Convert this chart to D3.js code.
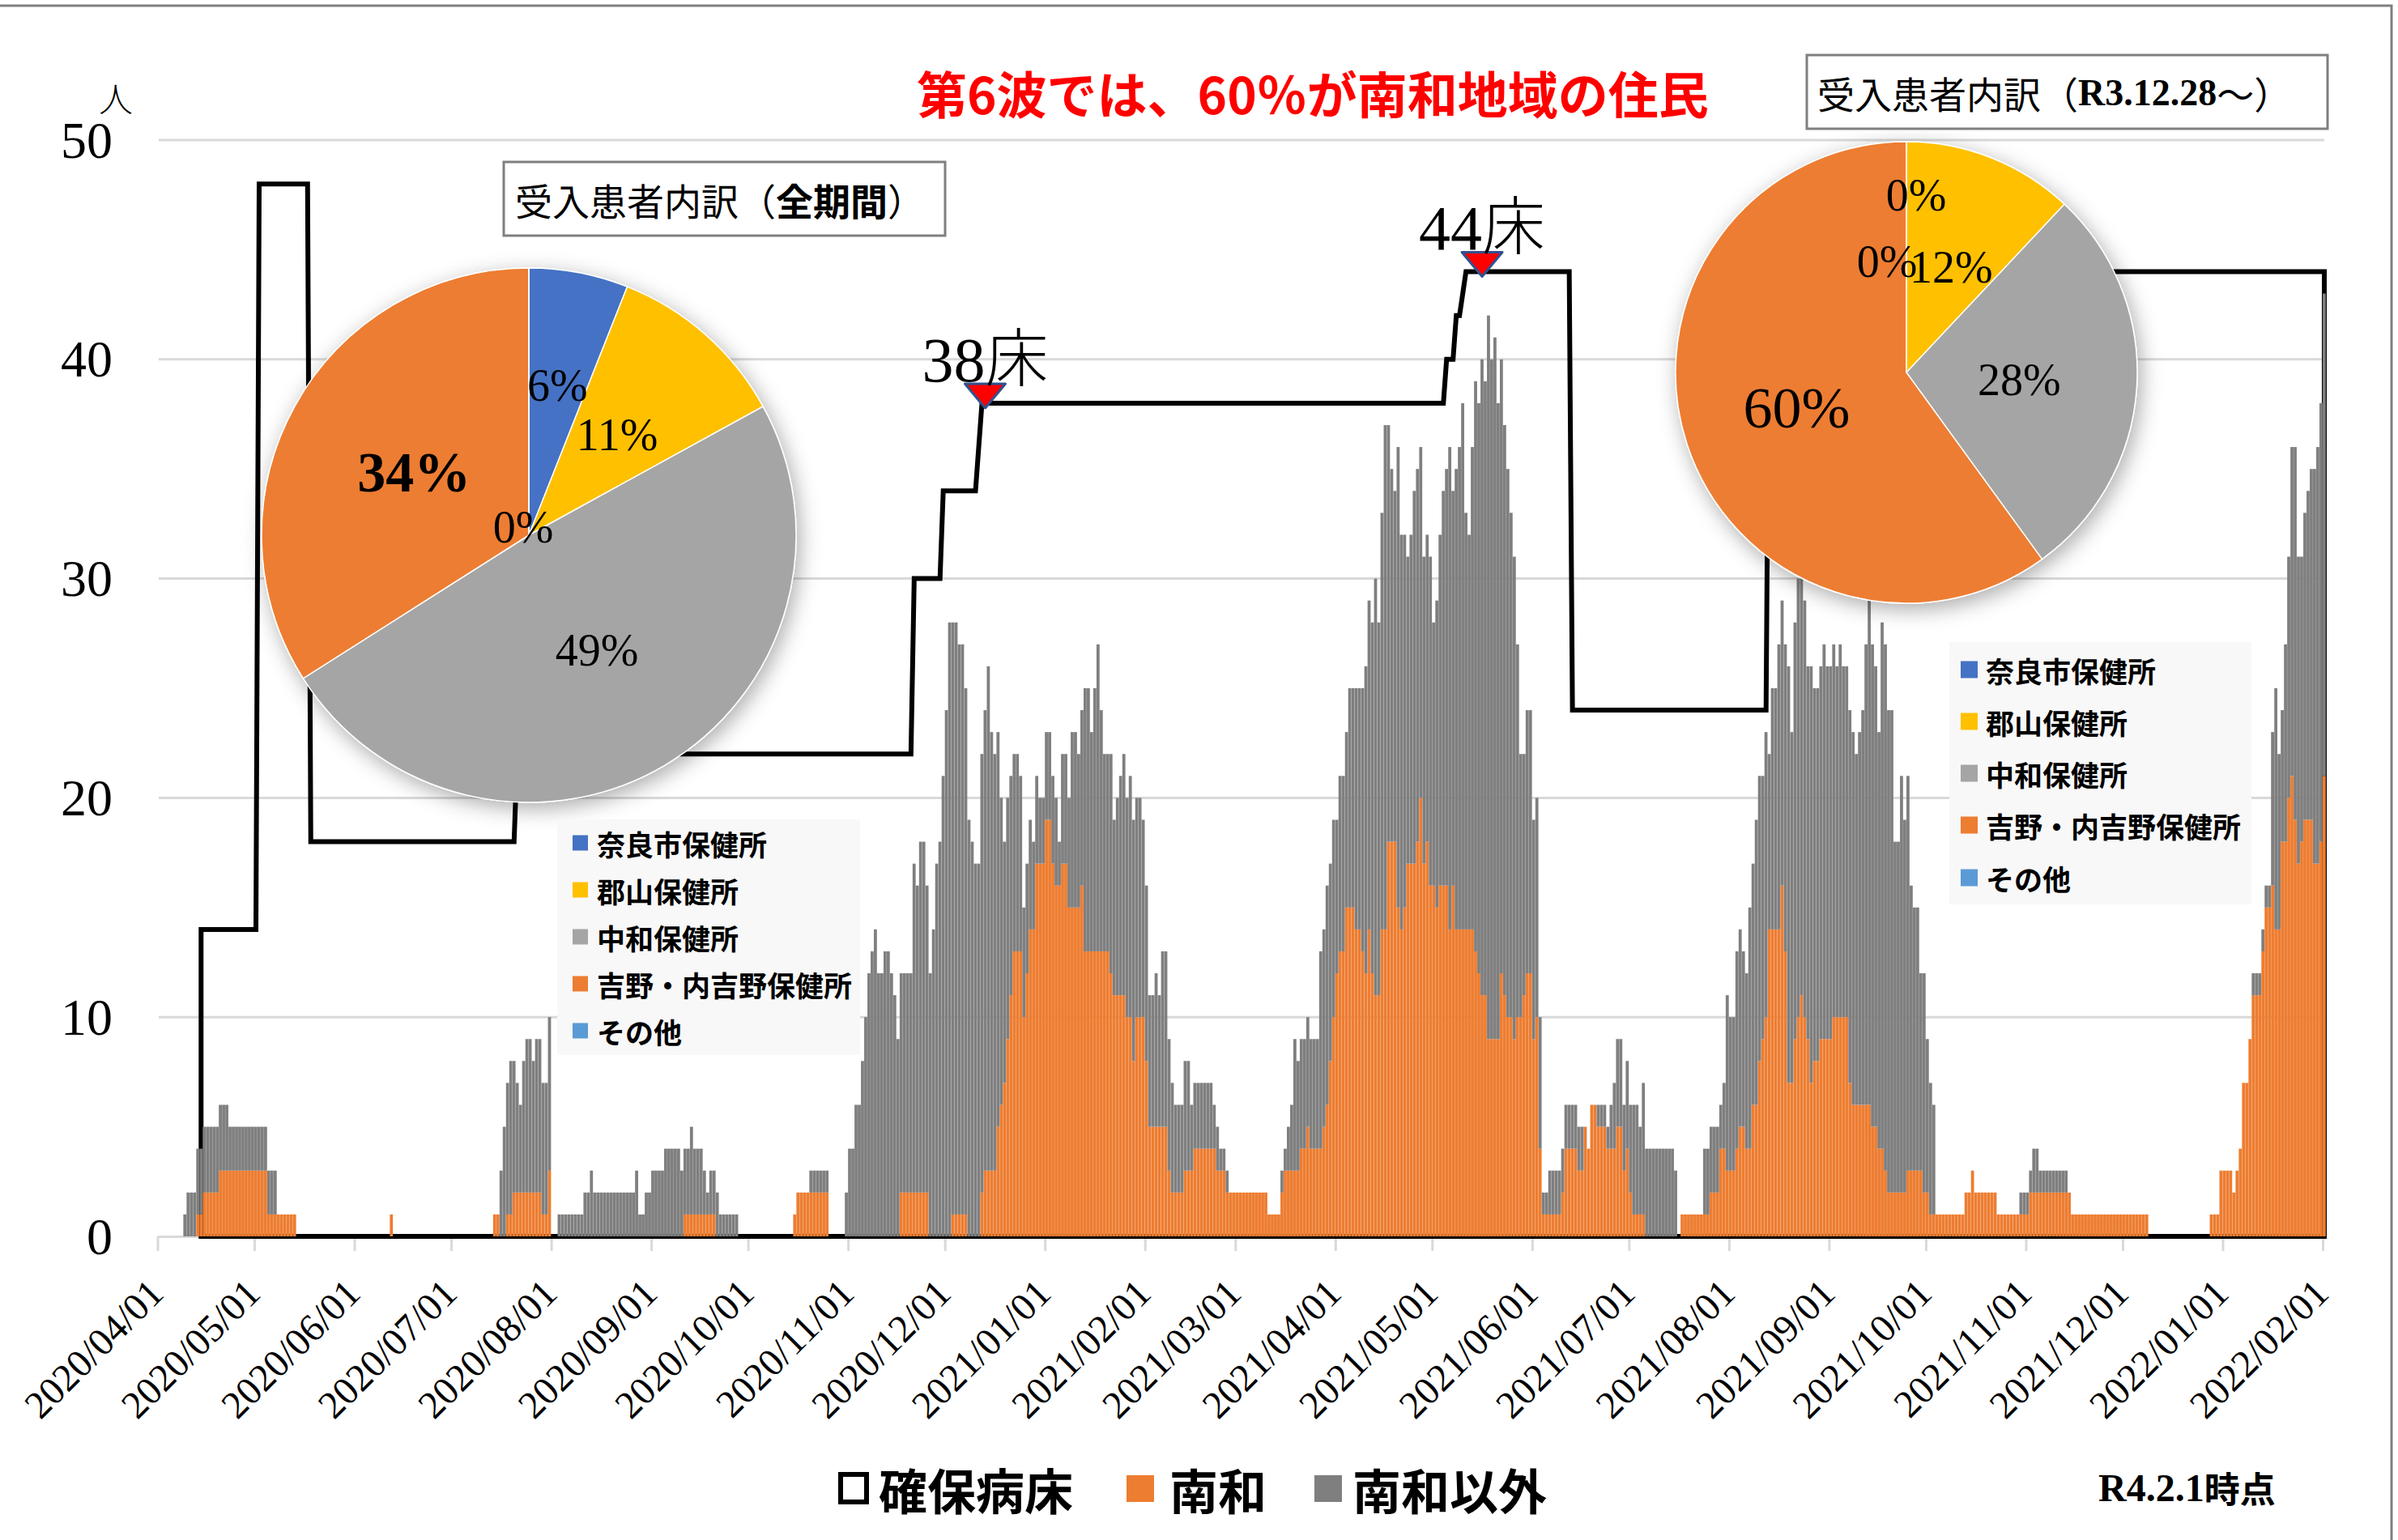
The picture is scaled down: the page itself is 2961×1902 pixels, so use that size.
<!DOCTYPE html>
<html><head><meta charset="utf-8">
<script src="https://cdn.jsdelivr.net/npm/d3@7"></script>
<style>
html,body{margin:0;padding:0;background:#fff;}
svg{display:block;}
</style></head><body>
<svg id="chart" width="2961" height="1902"></svg>
<script>
// ---------------- DATA ----------------
const startDate = "2020-04-01";
const endDate = "2022-02-01";
// 南和 (daily inpatients, 吉野・内吉野保健所 area)
const nanwa = [
/*2020-04*/0,0,0,0,0,0,0,0,0,0, 0,0,1,1,2,2,2,2,2,3, 3,3,3,3,3,3,3,3,3,3,
/*2020-05*/3,3,3,3,1,1,1,1,1,1, 1,1,1,0,0,0,0,0,0,0, 0,0,0,0,0,0,0,0,0,0, 0,
/*2020-06*/0,0,0,0,0,0,0,0,0,0, 0,1,0,0,0,0,0,0,0,0, 0,0,0,0,0,0,0,0,0,0,
/*2020-07*/0,0,0,0,0,0,0,0,0,0, 0,0,0,1,1,0,0,1,1,2, 2,2,2,2,2,2,2,2,1,1, 3,
/*2020-08*/0,0,0,0,0,0,0,0,0,0, 0,0,0,0,0,0,0,0,0,0, 0,0,0,0,0,0,0,0,0,0, 0,
/*2020-09*/0,0,0,0,0,0,0,0,0,0, 1,1,1,1,1,1,1,1,1,1, 0,0,0,0,0,0,0,0,0,0,
/*2020-10*/0,0,0,0,0,0,0,0,0,0, 0,0,0,0,1,2,2,2,2,2, 2,2,2,2,2,0,0,0,0,0, 0,
/*2020-11*/0,0,0,0,0,0,0,0,0,0, 0,0,0,0,0,0,2,2,2,2, 2,2,2,2,2,0,0,0,0,0,
/*2020-12*/0,0,1,1,1,1,1,0,0,0, 0,2,3,3,3,3,5,6,7,9, 11,13,13,13,10,12,14,14,17,17, 17,
/*2021-01*/19,19,17,16,16,17,17,15,15,15, 15,16,13,13,13,13,13,13,13,13, 12,11,11,11,11,10,10,8,10,10, 10,
/*2021-02*/8,5,5,5,5,5,5,3,2,2, 2,2,3,3,3,4,4,4,4,4, 4,4,3,3,3,2,2,2,
/*2021-03*/2,2,2,2,2,2,2,2,2,2, 1,1,1,1,2,3,3,3,3,3, 4,4,5,4,4,4,4,5,6,8, 10,
/*2021-04*/12,13,13,15,15,15,14,14,13,12, 14,12,11,11,14,14,18,18,18,15, 14,15,17,17,17,18,20,17,18,16,
/*2021-05*/16,15,16,16,16,14,16,14,14,14, 14,14,14,13,12,11,11,9,9,9, 9,12,11,10,10,9,10,10,11,12, 12,
/*2021-06*/9,10,4,1,1,1,1,1,1,2, 4,4,4,4,3,3,5,4,6,6, 5,5,5,4,4,4,5,5,3,4,
/*2021-07*/2,1,1,1,1,0,0,0,0,0, 0,0,0,0,0,0,1,1,1,1, 1,1,1,1,1,2,2,2,4,4, 3,
/*2021-08*/3,3,4,5,5,4,4,6,6,8, 9,10,14,14,14,14,16,13,7,7, 9,10,11,10,9,7,8,8,9,9, 9,
/*2021-09*/9,10,10,10,10,10,7,6,6,6, 6,6,6,5,5,4,4,3,2,2, 2,2,2,2,3,3,3,3,3,2,
/*2021-10*/2,1,1,1,1,1,1,1,1,1, 1,1,2,2,3,2,2,2,2,2, 2,2,1,1,1,1,1,1,1,1, 1,
/*2021-11*/1,2,2,2,2,2,2,2,2,2, 2,2,2,2,1,1,1,1,1,1, 1,1,1,1,1,1,1,1,1,1,
/*2021-12*/1,1,1,1,1,1,1,1,0,0, 0,0,0,0,0,0,0,0,0,0, 0,0,0,0,0,0,0,1,1,1, 3,
/*2022-01*/3,3,3,2,3,4,7,7,9,11, 11,11,13,15,15,16,14,14,18,18, 20,21,19,17,18,19,19,19,17,17, 18,
/*2022-02*/21
];
// 南和以外
const nanwaIgai = [
/*2020-04*/0,0,0,0,0,0,0,0,1,2, 2,2,3,3,3,3,3,3,3,3, 3,3,2,2,2,2,2,2,2,2,
/*2020-05*/2,2,2,2,2,2,2,0,0,0, 0,0,0,0,0,0,0,0,0,0, 0,0,0,0,0,0,0,0,0,0, 0,
/*2020-06*/0,0,0,0,0,0,0,0,0,0, 0,0,0,0,0,0,0,0,0,0, 0,0,0,0,0,0,0,0,0,0,
/*2020-07*/0,0,0,0,0,0,0,0,0,0, 0,0,0,0,0,3,5,6,7,6, 5,4,6,7,7,6,7,7,6,6, 7,
/*2020-08*/0,0,1,1,1,1,1,1,1,1, 2,2,3,2,2,2,2,2,2,2, 2,2,2,2,2,2,3,1,1,2, 2,
/*2020-09*/3,3,3,3,4,4,4,4,4,3, 3,3,4,3,3,3,2,1,2,2, 2,1,1,1,1,1,1,0,0,0,
/*2020-10*/0,0,0,0,0,0,0,0,0,0, 0,0,0,0,0,0,0,0,0,1, 1,1,1,1,1,0,0,0,0,0, 2,
/*2020-11*/4,4,6,6,8,10,12,13,14,12, 12,13,13,12,11,9,10,10,10,10, 15,14,16,16,14,12,14,17,18,21,
/*2020-12*/24,28,27,27,26,26,24,19,18,17, 17,20,21,23,20,19,18,14,11,11, 10,9,9,8,5,5,5,4,4,3, 3,
/*2021-01*/4,4,4,4,2,5,5,5,8,8, 7,8,12,12,10,12,14,11,9,9, 10,8,9,10,11,10,11,11,10,10, 9,
/*2021-02*/8,6,6,7,6,8,8,6,5,4, 4,4,5,5,3,3,3,3,3,3, 3,2,2,1,1,1,0,0,
/*2021-03*/0,0,0,0,0,0,0,0,0,0, 0,0,0,0,1,1,2,3,6,5, 5,5,5,5,5,5,9,9,10,9, 9,
/*2021-04*/7,8,8,8,10,10,11,11,12,14, 15,16,19,17,19,23,19,17,16,21, 18,17,14,15,17,17,16,14,14,15,
/*2021-05*/12,14,16,18,19,22,18,21,22,24, 19,18,22,26,26,29,28,33,31,32, 29,28,26,25,23,22,17,12,11,12, 12,
/*2021-06*/10,10,6,1,1,2,2,2,2,2, 2,2,2,2,2,2,0,0,0,0, 1,1,1,1,2,3,4,4,3,4,
/*2021-07*/4,5,5,4,6,4,4,4,4,4, 4,4,4,4,3,0,0,0,0,0, 0,0,0,3,3,3,3,3,2,3, 8,
/*2021-08*/7,7,9,9,8,8,11,11,13,13, 12,13,8,11,11,13,13,14,19,16, 19,20,19,19,17,19,17,17,17,18, 17,
/*2021-09*/17,17,16,17,16,16,17,17,16,17, 18,21,23,22,21,19,24,24,22,22, 16,16,19,17,18,13,12,12,9,10,
/*2021-10*/7,6,5,0,0,0,0,0,0,0, 0,0,0,0,0,0,0,0,0,0, 0,0,0,0,0,0,0,0,0,1, 1,
/*2021-11*/1,1,2,2,1,1,1,1,1,1, 1,1,1,0,0,0,0,0,0,0, 0,0,0,0,0,0,0,0,0,0,
/*2021-12*/0,0,0,0,0,0,0,0,0,0, 0,0,0,0,0,0,0,0,0,0, 0,0,0,0,0,0,0,0,0,0, 0,
/*2022-01*/0,0,0,0,0,0,0,0,0,1, 1,1,1,1,1,7,11,8,6,9, 11,15,17,14,13,14,15,16,18,19, 20,
/*2022-02*/22
];
// 確保病床 (secured beds) – vertices of the area outline
const bedDates = ["2020-04-14","2020-05-01","2020-05-02","2020-05-17","2020-05-18","2020-07-20","2020-07-21",
  "2020-11-20","2020-11-21","2020-11-29","2020-11-30","2020-12-10","2020-12-12",
  "2021-05-04","2021-05-05","2021-05-07","2021-05-08","2021-05-09","2021-05-11",
  "2021-06-12","2021-06-13","2021-08-12","2021-08-13","2022-02-01"];
const bedValues = [14,14,48,48,18,18,22, 22,30,30,34,34,38, 38,40,40,42,42,44, 44,24,24,44,44];
const bedNotes = [{date:"2020-12-13", value:38, label:"38"}, {date:"2021-05-16", value:44, label:"44"}];

const monthTicks = ["2020/04/01","2020/05/01","2020/06/01","2020/07/01","2020/08/01","2020/09/01","2020/10/01",
  "2020/11/01","2020/12/01","2021/01/01","2021/02/01","2021/03/01","2021/04/01","2021/05/01","2021/06/01",
  "2021/07/01","2021/08/01","2021/09/01","2021/10/01","2021/11/01","2021/12/01","2022/01/01","2022/02/01"];
const yTicks = [0,10,20,30,40,50];

const sourceNames = ["奈良市保健所","郡山保健所","中和保健所","吉野・内吉野保健所","その他"];
const pieAllValues = [6,11,49,34,0];
const pieRecentValues = [0,12,28,60,0];
const sourceColors = ["#4472C4","#FFC000","#A5A5A5","#ED7D31","#5B9BD5"];

// ---------------- DRAW ----------------
const W = 2961, H = 1902;
const SERIF = "'Liberation Serif','DejaVu Serif',serif";
const JP = "'Noto Sans CJK JP','Noto Sans',sans-serif";
const svg = d3.select("#chart");
const parse = d3.utcParse("%Y-%m-%d");
const parseSlash = d3.utcParse("%Y/%m/%d");
const t0 = parse(startDate);
const days = nanwa.map((_, i) => d3.utcDay.offset(t0, i));

const x = d3.scaleUtc().domain([t0, parse(endDate)]).range([194.5, 2868]);
const dayW = x(d3.utcDay.offset(t0, 1)) - x(t0);
const y = d3.scaleLinear().domain([0, 50]).range([1527, 173]);

const defs = svg.append("defs");
const f = defs.append("filter").attr("id","pieShadow").attr("x","-20%").attr("y","-20%").attr("width","140%").attr("height","140%");
f.append("feDropShadow").attr("dx",4).attr("dy",7).attr("stdDeviation",13).attr("flood-color","#000").attr("flood-opacity",0.33);

svg.append("rect").attr("width",W).attr("height",H).attr("fill","#fff");
svg.append("path").attr("d",`M0,7H2953V${H}`).attr("fill","none").attr("stroke","#808080").attr("stroke-width",3);

// grid lines
svg.append("g").selectAll("line").data(yTicks.filter(v => v > 0)).join("line")
  .attr("x1",196).attr("x2",2870).attr("y1",d => y(d)).attr("y2",d => y(d))
  .attr("stroke","#d9d9d9").attr("stroke-width",3);

// y labels
svg.append("g").selectAll("text").data(yTicks).join("text")
  .attr("x",139).attr("y",d => y(d)).attr("text-anchor","end").attr("dominant-baseline","central")
  .attr("font-family",SERIF).attr("font-size",64).attr("fill","#000").text(d => d);
svg.append("text").attr("x",143).attr("y",119).attr("text-anchor","middle").attr("dominant-baseline","central")
  .attr("font-family",JP).attr("font-weight",300).attr("font-size",42).text("人");

// x axis
const tickDates = monthTicks.map(s => parseSlash(s));
const ax = svg.append("g").attr("transform",`translate(0,${y(0)})`)
  .call(d3.axisBottom(x).tickValues(tickDates).tickSize(18).tickSizeOuter(0).tickFormat(""));
ax.select(".domain").attr("stroke","#d9d9d9").attr("stroke-width",3);
ax.selectAll(".tick line").attr("stroke","#d9d9d9").attr("stroke-width",3);

svg.append("g").selectAll("text").data(tickDates).join("text")
  .attr("transform",(d,i) => `translate(${x(d)+10},1600) rotate(-45)`)
  .attr("text-anchor","end").attr("font-family",SERIF).attr("font-size",48).attr("fill","#000")
  .text((d,i) => monthTicks[i]);

// bed area outline
const bedPts = bedDates.map((s,i) => [x(parse(s)) + dayW/2, y(bedValues[i])]);
const poly = [[bedPts[0][0], y(0)], ...bedPts, [bedPts[bedPts.length-1][0], y(0)]];
svg.append("path").attr("d", d3.line()(poly) + "Z").attr("fill","none")
  .attr("stroke","#000").attr("stroke-width",6).attr("stroke-linejoin","miter");

// stacked bars
const rows = days.map((d,i) => ({date:d, nanwa:nanwa[i], igai:nanwaIgai[i]}));
const stack = d3.stack().keys(["nanwa","igai"])(rows);
const barColors = {nanwa:"#ED7D31", igai:"#7F7F7F"};
svg.append("g").selectAll("g").data(stack).join("g").attr("fill",s => barColors[s.key])
  .selectAll("rect").data(s => s.filter(p => p[1] > p[0])).join("rect")
  .attr("x",p => x(p.data.date)).attr("width",dayW - 0.2)
  .attr("y",p => y(p[1])).attr("height",p => y(p[0]) - y(p[1]));

// bed annotations
bedNotes.forEach(n => {
  const cx = x(parse(n.date)) + dayW/2, cy = y(n.value);
  svg.append("path").attr("d",`M${cx-25},${cy-24}L${cx+25},${cy-24}L${cx},${cy+6}Z`)
    .attr("fill","#FF0000").attr("stroke","#2F528F").attr("stroke-width",3).attr("stroke-linejoin","round");
  const t = svg.append("text").attr("x",cx).attr("y",cy-27).attr("text-anchor","middle").attr("font-size",78);
  t.append("tspan").attr("font-family",SERIF).text(n.label);
  t.append("tspan").attr("font-family",JP).attr("font-weight",300).text("床");
});

// pies
function drawPie(values, cx, cy, r, labelR, labelDx, sizes, bolds) {
  const arcs = d3.pie().sort(null).value(d => d)(values);
  const g = svg.append("g").attr("transform",`translate(${cx},${cy})`);
  g.append("g").attr("filter","url(#pieShadow)").selectAll("path").data(arcs).join("path")
    .attr("d", d3.arc().innerRadius(0).outerRadius(r))
    .attr("fill",(d,i) => sourceColors[i]).attr("stroke","#fff").attr("stroke-width",1.5);
  g.selectAll("text").data(arcs).join("text")
    .attr("x",(d,i) => { const a = (d.startAngle + d.endAngle)/2; return Math.sin(a)*r*labelR[i] + labelDx[i]; })
    .attr("y",(d,i) => { const a = (d.startAngle + d.endAngle)/2; return -Math.cos(a)*r*labelR[i]; })
    .attr("text-anchor","middle").attr("dominant-baseline","central")
    .attr("font-family",SERIF).attr("font-size",(d,i) => sizes[i]).attr("font-weight",(d,i) => bolds[i] ? 700 : 400)
    .attr("fill","#000").text(d => d.data + "%");
}
drawPie(pieAllValues, 653, 661, 330, [0.57,0.5,0.5,0.49,0.03], [0,0,0,0,-7], [56,56,56,70,56], [0,0,0,1,0]);
drawPie(pieRecentValues, 2354, 460, 285, [0.77,0.49,0.49,0.5,0.48], [12,4,0,0,-24], [56,56,56,72,56], [0,0,0,0,0]);

// pie title boxes
svg.append("rect").attr("x",622).attr("y",200).attr("width",545).attr("height",91)
  .attr("fill","#fff").attr("stroke","#7f7f7f").attr("stroke-width",3);
const bt1 = svg.append("text").attr("x",636).attr("y",246).attr("dominant-baseline","central")
  .attr("font-family",JP).attr("font-size",46).attr("fill","#000");
bt1.append("tspan").text("受入患者内訳（");
bt1.append("tspan").attr("font-weight",700).text("全期間");
bt1.append("tspan").text("）");

svg.append("rect").attr("x",2231).attr("y",68).attr("width",643).attr("height",91)
  .attr("fill","#fff").attr("stroke","#7f7f7f").attr("stroke-width",3);
const bt2 = svg.append("text").attr("x",2244).attr("y",114).attr("dominant-baseline","central")
  .attr("font-size",46).attr("fill","#000");
bt2.append("tspan").attr("font-family",JP).text("受入患者内訳（");
bt2.append("tspan").attr("font-family",SERIF).attr("font-weight",700).text("R3.12.28");
bt2.append("tspan").attr("font-family",JP).text("～）");

// pie legends
function drawLegend(x0, y0, w, h, sqX, sq, textX, ys) {
  svg.append("rect").attr("x",x0).attr("y",y0).attr("width",w).attr("height",h).attr("fill","#f8f8f8");
  const g = svg.append("g");
  g.selectAll("rect").data(sourceNames).join("rect")
    .attr("x",sqX).attr("y",(d,i) => ys[i] - sq/2).attr("width",sq).attr("height",sq)
    .attr("fill",(d,i) => sourceColors[i]);
  g.selectAll("text").data(sourceNames).join("text")
    .attr("x",textX).attr("y",(d,i) => ys[i]).attr("dominant-baseline","central")
    .attr("font-family",JP).attr("font-weight",700).attr("font-size",35).attr("fill","#000").text(d => d);
}
drawLegend(688, 1012, 374, 291, 707, 19, 737, [1041,1099,1157,1215,1273]);
drawLegend(2407, 793, 373, 324, 2421, 21, 2452, [827,891,955,1019,1084]);

// title
svg.append("text").attr("x",1132).attr("y",114).attr("dominant-baseline","central")
  .attr("font-family",JP).attr("font-weight",700).attr("font-size",62).attr("fill","#FF0000")
  .text("第6波では、60％が南和地域の住民");

// bottom legend
const lg = svg.append("g").attr("font-family",JP).attr("font-weight",700).attr("font-size",60).attr("fill","#000");
lg.append("rect").attr("x",1038).attr("y",1821).attr("width",32).attr("height",34).attr("fill","#fff").attr("stroke","#000").attr("stroke-width",6);
lg.append("text").attr("x",1085).attr("y",1838).attr("dominant-baseline","central").text("確保病床");
lg.append("rect").attr("x",1391).attr("y",1822).attr("width",34).attr("height",33).attr("fill",barColors.nanwa);
lg.append("text").attr("x",1444).attr("y",1838).attr("dominant-baseline","central").text("南和");
lg.append("rect").attr("x",1623).attr("y",1822).attr("width",34).attr("height",33).attr("fill",barColors.igai);
lg.append("text").attr("x",1670).attr("y",1838).attr("dominant-baseline","central").text("南和以外");

const asOf = svg.append("text").attr("x",2591).attr("y",1837).attr("dominant-baseline","central")
  .attr("font-size",48).attr("font-weight",700).attr("fill","#000");
asOf.append("tspan").attr("font-family",SERIF).text("R4.2.1");
asOf.append("tspan").attr("font-family",JP).attr("font-size",44).text("時点");
</script>
</body></html>
